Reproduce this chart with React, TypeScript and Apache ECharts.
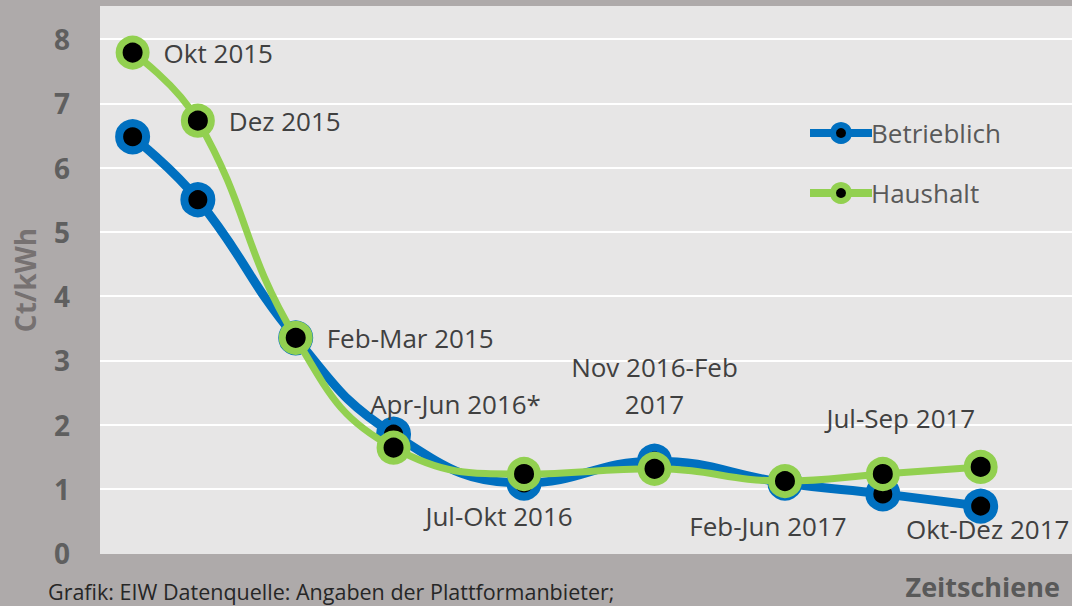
import React, { useEffect, useRef } from "react";
import * as echarts from "echarts";

const periods = [
  "Okt 2015",
  "Dez 2015",
  "Feb-Mar 2015",
  "Apr-Jun 2016*",
  "Jul-Okt 2016",
  "Nov 2016-Feb\n2017",
  "Feb-Jun 2017",
  "Jul-Sep 2017",
  "Okt-Dez 2017",
];
// months since Okt 2015 (time position of each period)
const monthPos = [0, 2, 5, 8, 12, 16, 20, 23, 26];
const betrieblich = [6.48, 5.5, 3.35, 1.85, 1.09, 1.43, 1.09, 0.92, 0.73];
const haushalt = [7.79, 6.73, 3.35, 1.64, 1.23, 1.31, 1.12, 1.23, 1.34];
const yTicks = [0, 1, 2, 3, 4, 5, 6, 7, 8];

const FONT = "'Open Sans', 'Noto Sans', sans-serif";

// label placement per point: [position, dx, dy]
const labelPlace: [string, number, number][] = [
  ["right", 0, 0],
  ["right", 0, 0],
  ["right", 0, 0],
  ["inside", 62, -44],
  ["inside", -25, 42],
  ["inside", 0, -83],
  ["inside", -17, 45],
  ["inside", 18, -56],
  ["inside", 7, 62],
];

export default function App() {
  const ref = useRef<HTMLDivElement>(null);
  useEffect(() => {
    if (!ref.current) return;
    const chart = echarts.init(ref.current, null, { renderer: "svg" });
    const blueData = monthPos.map((m, i) => [m, betrieblich[i]]);
    const greenData = monthPos.map((m, i) => ({
      value: [m, haushalt[i]],
      label: {
        show: true,
        formatter: periods[i],
        position: labelPlace[i][0],
        distance: 14,
        offset: [labelPlace[i][1], labelPlace[i][2]],
        align: labelPlace[i][0] === "right" ? "left" : "center",
        verticalAlign: "middle",
      },
    }));
    const splitColors = yTicks.map((t) => (t === 0 ? "#e7e6e6" : "#ffffff"));
    splitColors.push("#e7e6e6");
    chart.setOption({
      animation: false,
      backgroundColor: "#aeaaaa",
      grid: {
        left: 100,
        right: 0,
        top: 7,
        bottom: 53,
        outerBoundsMode: "none",
        containLabel: false,
        show: true,
        backgroundColor: "#e7e6e6",
        borderWidth: 0,
      },
      legend: {
        orient: "vertical",
        left: 801,
        top: 113,
        itemWidth: 62,
        itemHeight: 20,
        itemGap: 30,
        lineStyle: { width: 8 },
        itemStyle: { borderWidth: 6 },
        textStyle: {
          fontFamily: FONT,
          fontSize: 26,
          color: "#595959",
          lineHeight: 30,
          padding: [0, 0, 0, -6],
        },
        data: ["Betrieblich", "Haushalt"],
      },
      xAxis: {
        type: "value",
        min: -1,
        max: 28.8,
        show: false,
        splitLine: { show: false },
      },
      yAxis: {
        type: "value",
        min: 0,
        max: 8.5,
        interval: 1,
        name: "Ct/kWh",
        nameLocation: "middle",
        nameRotate: 90,
        nameGap: 61,
        nameTextStyle: {
          fontFamily: FONT,
          fontSize: 28,
          fontWeight: "bold",
          color: "#767171",
        },
        axisLine: { show: false },
        axisTick: { show: false },
        axisLabel: {
          margin: 30,
          fontFamily: FONT,
          fontSize: 28,
          fontWeight: "bold",
          color: "#5f5f5f",
          formatter: (v: number) => (yTicks.indexOf(v) >= 0 ? String(v) : ""),
        },
        splitLine: { show: true, lineStyle: { color: splitColors, width: 2 } },
      },
      series: [
        {
          name: "Betrieblich",
          type: "line",
          data: blueData,
          smooth: 0.45,
          symbol: "circle",
          symbolSize: 27,
          lineStyle: { color: "#0070c0", width: 9 },
          itemStyle: { color: "#000000", borderColor: "#0070c0", borderWidth: 8 },
          z: 2,
        },
        {
          name: "Haushalt",
          type: "line",
          data: greenData,
          smooth: 0.45,
          symbol: "circle",
          symbolSize: 27,
          lineStyle: { color: "#92d050", width: 7 },
          itemStyle: { color: "#000000", borderColor: "#92d050", borderWidth: 7 },
          label: {
            fontFamily: FONT,
            fontSize: 26,
            color: "#404040",
            lineHeight: 37,
          },
          z: 3,
        },
      ],
      graphic: [
        {
          type: "text",
          left: 48,
          top: 580,
          style: {
            text: "Grafik: EIW Datenquelle: Angaben der Plattformanbieter;",
            font: `21.5px ${FONT}`,
            fill: "#262626",
          },
        },
        {
          type: "text",
          right: 12,
          top: 573,
          style: {
            text: "Zeitschiene",
            font: `bold 27px ${FONT}`,
            fill: "#595959",
          },
        },
      ],
    });
    return () => chart.dispose();
  }, []);
  return (
    <div
      ref={ref}
      style={{ position: "absolute", left: 0, top: 0, width: 1072, height: 606 }}
    />
  );
}
